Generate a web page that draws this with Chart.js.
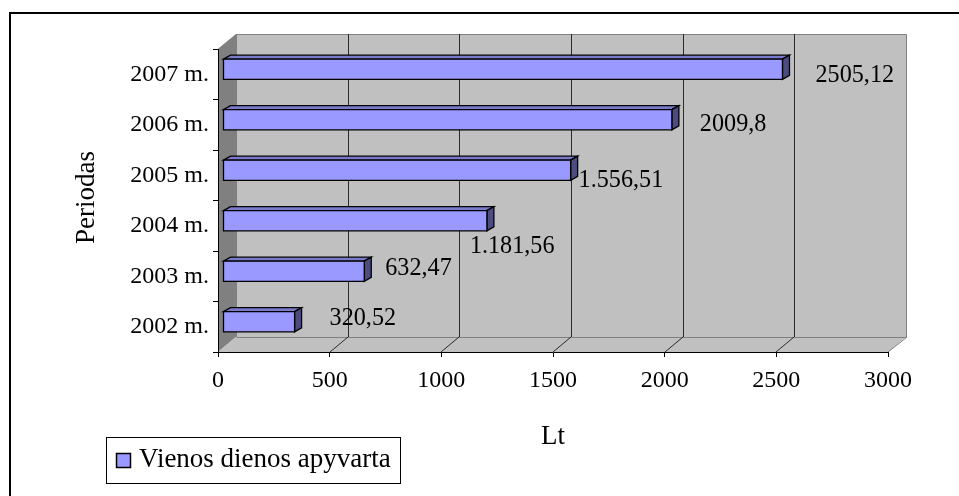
<!DOCTYPE html>
<html>
<head>
<meta charset="utf-8">
<script src="https://cdn.jsdelivr.net/npm/chart.js@4/dist/chart.umd.min.js"></script>
<style>
  html, body { margin: 0; padding: 0; background: #ffffff; }
  #wrap { width: 959px; height: 496px; position: relative; }
</style>
</head>
<body>
<div id="wrap"><canvas id="chart" width="959" height="496"></canvas></div>
<script>
// Daily turnover by period (Lt)
const periods = ['2002 m.', '2003 m.', '2004 m.', '2005 m.', '2006 m.', '2007 m.'];
const turnover = [320.52, 632.47, 1181.56, 1556.51, 2009.8, 2505.12];
const valueLabels = ['320,52', '632,47', '1.181,56', '1.556,51', '2009,8', '2505,12'];
const xTickValues = [0, 500, 1000, 1500, 2000, 2500, 3000];
const seriesName = 'Vienos dienos apyvarta';
const xTitle = 'Lt';
const yTitle = 'Periodas';

// Where each value label sits relative to its bar tip (px)
const labelOffsets = [[40, -9], [26, -8], [-12, 20], [13, 5], [33, -1], [38, 1]];

const FONT = '"Liberation Serif", "Times New Roman", serif';
const WALL = { dx: 18, dy: -15 };      // depth of the back wall
const BAR_PLANE = { dx: 5, dy: -5 };   // bars sit a little behind the front plane
const BAR_DEPTH = { dx: 7, dy: -4 };   // thickness of each 3D bar

const scene3d = {
  id: 'scene3d',
  beforeDraw(chart) {
    const ctx = chart.ctx;
    const { left: L, right: R, top: T, bottom: B } = chart.chartArea;
    const xs = chart.scales.x;
    ctx.save();
    ctx.fillStyle = '#ffffff';
    ctx.fillRect(0, 0, chart.width, chart.height);
    // outer frame
    ctx.strokeStyle = '#000000';
    ctx.lineWidth = 2;
    ctx.strokeRect(10, 13, chart.width + 20, chart.height + 20);

    const wx = WALL.dx, wy = WALL.dy;
    ctx.lineWidth = 1;
    // back wall
    ctx.fillStyle = '#c0c0c0';
    ctx.fillRect(L + wx, T + wy, R - L, B - T);
    // side wall
    ctx.fillStyle = '#808080';
    ctx.beginPath();
    ctx.moveTo(L, T); ctx.lineTo(L + wx, T + wy); ctx.lineTo(L + wx, B + wy); ctx.lineTo(L, B);
    ctx.closePath(); ctx.fill();
    // floor
    ctx.fillStyle = '#c0c0c0';
    ctx.beginPath();
    ctx.moveTo(L, B); ctx.lineTo(L + wx, B + wy); ctx.lineTo(R + wx, B + wy); ctx.lineTo(R, B);
    ctx.closePath(); ctx.fill();

    // wall outlines
    ctx.strokeStyle = '#808080';
    ctx.beginPath();
    ctx.moveTo(L + 0.5, T); ctx.lineTo(L + wx + 0.5, T + wy + 0.5);
    ctx.lineTo(R + wx + 0.5, T + wy + 0.5); ctx.lineTo(R + wx + 0.5, B + wy + 0.5);
    ctx.lineTo(R, B);
    ctx.moveTo(L + wx + 0.5, B + wy + 0.5); ctx.lineTo(R + wx + 0.5, B + wy + 0.5);
    ctx.moveTo(L + wx + 0.5, T + wy); ctx.lineTo(L + wx + 0.5, B + wy);
    ctx.stroke();

    // gridlines on the back wall and the floor
    ctx.strokeStyle = '#2a2a2a';
    ctx.beginPath();
    xTickValues.forEach(v => {
      if (v <= 0 || v >= 3000) return;
      const x = Math.round(xs.getPixelForValue(v));
      ctx.moveTo(x + wx + 0.5, T + wy);
      ctx.lineTo(x + wx + 0.5, B + wy);
      ctx.moveTo(x, B);
      ctx.lineTo(x + wx, B + wy);
    });
    ctx.stroke();
    ctx.restore();
  },
  afterDatasetsDraw(chart) {
    const ctx = chart.ctx;
    const meta = chart.getDatasetMeta(0);
    ctx.save();
    ctx.lineWidth = 1.3;
    ctx.strokeStyle = '#000000';
    ctx.lineJoin = 'miter';
    meta.data.forEach(bar => {
      const h = bar.height;
      const x0 = bar.base + BAR_PLANE.dx;
      const x1 = bar.x + BAR_PLANE.dx;
      const y0 = bar.y - h / 2 + BAR_PLANE.dy;
      const y1 = bar.y + h / 2 + BAR_PLANE.dy;
      const dx = BAR_DEPTH.dx, dy = BAR_DEPTH.dy;
      // top face
      ctx.fillStyle = '#7a7acc';
      ctx.beginPath();
      ctx.moveTo(x0, y0); ctx.lineTo(x0 + dx, y0 + dy); ctx.lineTo(x1 + dx, y0 + dy); ctx.lineTo(x1, y0);
      ctx.closePath(); ctx.fill(); ctx.stroke();
      // end face
      ctx.fillStyle = '#4c4c80';
      ctx.beginPath();
      ctx.moveTo(x1, y0); ctx.lineTo(x1 + dx, y0 + dy); ctx.lineTo(x1 + dx, y1 + dy); ctx.lineTo(x1, y1);
      ctx.closePath(); ctx.fill(); ctx.stroke();
      // front face
      ctx.fillStyle = '#9999ff';
      ctx.beginPath();
      ctx.rect(x0, y0, x1 - x0, y1 - y0);
      ctx.fill(); ctx.stroke();
    });

    // value labels (slightly condensed serif)
    ctx.fillStyle = '#000000';
    ctx.font = '26px ' + FONT;
    ctx.textAlign = 'left';
    ctx.textBaseline = 'middle';
    meta.data.forEach((bar, i) => {
      const off = labelOffsets[i];
      ctx.save();
      ctx.translate(bar.x + off[0], bar.y + off[1]);
      ctx.scale(0.93, 1);
      ctx.fillText(valueLabels[i], 0, 0);
      ctx.restore();
    });
    ctx.restore();
  },
  afterDraw(chart) {
    const ctx = chart.ctx;
    const { left: L, right: R, top: T, bottom: B } = chart.chartArea;
    ctx.save();
    ctx.fillStyle = '#000000';
    ctx.font = '27px ' + FONT;
    ctx.textAlign = 'center';
    ctx.textBaseline = 'middle';
    // axis titles
    ctx.fillText(xTitle, (L + R) / 2, B + 85);
    ctx.save();
    ctx.translate(87, (T + B) / 2 - 3);
    ctx.rotate(-Math.PI / 2);
    ctx.fillText(yTitle, 0, 0);
    ctx.restore();

    // legend
    const lx = 106, ly = 437, lw = 294, lh = 46;
    ctx.fillStyle = '#ffffff';
    ctx.fillRect(lx, ly, lw, lh);
    ctx.strokeStyle = '#000000';
    ctx.lineWidth = 1;
    ctx.strokeRect(lx + 0.5, ly + 0.5, lw, lh);
    ctx.fillStyle = '#9999ff';
    ctx.fillRect(116.5, 453.5, 14, 14);
    ctx.lineWidth = 1.5;
    ctx.strokeRect(116.5, 453.5, 14, 14);
    ctx.fillStyle = '#000000';
    ctx.textAlign = 'left';
    ctx.fillText(seriesName, 139, 460);
    ctx.restore();
  }
};

function build() {
  new Chart(document.getElementById('chart'), {
    type: 'bar',
    data: {
      labels: periods,
      datasets: [{
        label: seriesName,
        data: turnover,
        backgroundColor: 'rgba(0,0,0,0)',
        borderWidth: 0,
        barPercentage: 0.4,
        categoryPercentage: 1
      }]
    },
    options: {
      indexAxis: 'y',
      responsive: false,
      animation: false,
      events: [],
      layout: { padding: { left: 0, top: 49, right: 71, bottom: 0 } },
      plugins: { legend: { display: false }, tooltip: { enabled: false } },
      scales: {
        x: {
          type: 'linear',
          min: 0,
          max: 3000,
          afterBuildTicks(scale) { scale.ticks = xTickValues.map(v => ({ value: v })); },
          afterFit(scale) { scale.height = 144; },
          ticks: {
            color: '#000000', font: { family: FONT, size: 24 }, padding: 9, maxRotation: 0,
            callback: v => String(v)
          },
          grid: { drawOnChartArea: false, drawTicks: true, tickLength: 5, color: '#000000' },
          border: { display: true, color: '#000000', width: 1 }
        },
        y: {
          type: 'category',
          reverse: true,
          offset: true,
          afterFit(scale) { scale.width = 218; },
          ticks: { color: '#000000', font: { family: FONT, size: 24 }, padding: 4, autoSkip: false },
          grid: { offset: true, drawOnChartArea: false, drawTicks: true, tickLength: 5, color: '#000000' },
          border: { display: true, color: '#000000', width: 1 }
        }
      }
    },
    plugins: [scene3d]
  });
}

if (document.fonts && document.fonts.load) {
  document.fonts.load('24px "Liberation Serif"').then(build, build);
} else {
  build();
}
</script>
</body>
</html>
